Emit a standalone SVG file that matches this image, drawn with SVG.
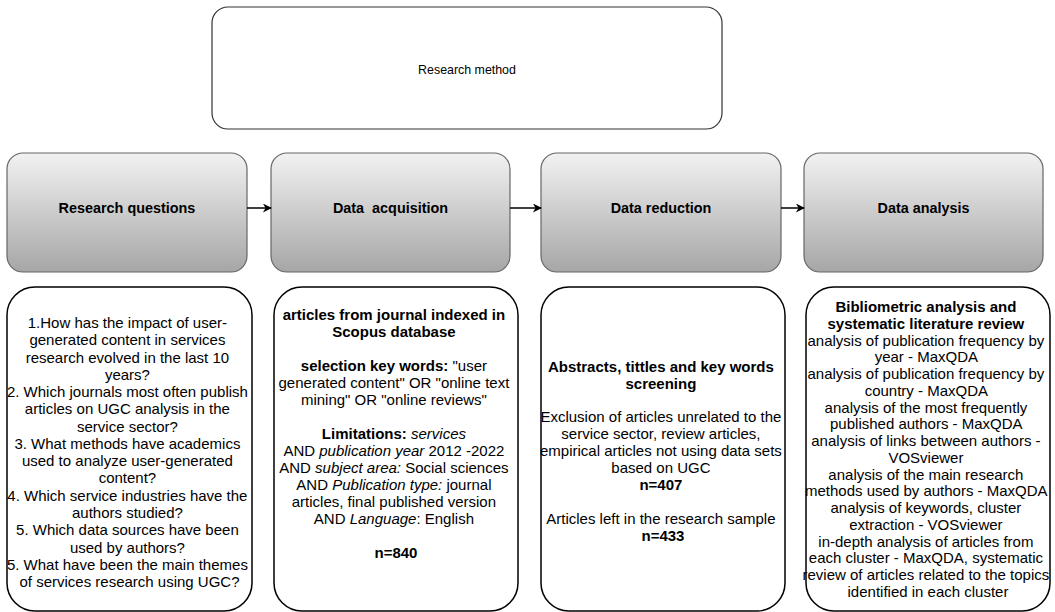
<svg xmlns="http://www.w3.org/2000/svg" width="1055" height="612" viewBox="0 0 1055 612">
<style>
text{font-family:"Liberation Sans",Arial,Helvetica,sans-serif;fill:#000;}
.top{fill:#fff;stroke:#333;stroke-width:1.2;}
.phase{fill:url(#g);stroke:#666;stroke-width:1.2;}
.detail{fill:#fff;stroke:#000;stroke-width:1.5;}
.lbl{font-size:14.4px;font-weight:bold;text-anchor:middle;}
.body{font-size:15px;text-anchor:middle;}
.b{font-weight:bold;}
.i{font-style:italic;}
.conn{stroke:#000;stroke-width:1.5;fill:none;marker-end:url(#arr);}
</style>
<defs>
<linearGradient id="g" x1="0" y1="0" x2="0" y2="1">
<stop offset="0" stop-color="#f2f2f2"/>
<stop offset="1" stop-color="#a6a6a6"/>
</linearGradient>
<marker id="arr" viewBox="0 0 10 10" refX="9" refY="5" markerWidth="10" markerHeight="9" markerUnits="userSpaceOnUse" orient="auto">
<path d="M0,0 L10,5 L0,10 L3,5 Z" fill="#000"/>
</marker>
</defs>

<g id="research-method">
<rect class="top" x="212" y="7" width="510" height="122" rx="16"/>
<text x="467" y="74" style="font-size:12.4px" text-anchor="middle">Research method</text>
</g>

<g id="research-questions">
<rect class="phase" x="7" y="153" width="240" height="119" rx="16"/>
<text class="lbl" x="127" y="213">Research questions</text>
</g>
<g id="data-acquisition">
<rect class="phase" x="271" y="153" width="239" height="119" rx="16"/>
<text class="lbl" x="390.5" y="213" style="white-space:pre">Data  acquisition</text>
</g>
<g id="data-reduction">
<rect class="phase" x="541" y="153" width="240" height="119" rx="16"/>
<text class="lbl" x="661" y="213">Data reduction</text>
</g>
<g id="data-analysis">
<rect class="phase" x="804" y="153" width="239" height="119" rx="16"/>
<text class="lbl" x="923.5" y="213">Data analysis</text>
</g>

<g id="connectors">
<line class="conn" x1="247" y1="208" x2="271" y2="208"/>
<line class="conn" x1="510" y1="208" x2="541" y2="208"/>
<line class="conn" x1="781" y1="208" x2="804" y2="208"/>
</g>

<g id="questions-detail">
<rect class="detail" x="7" y="287" width="245" height="324" rx="28"/>
<text class="body">
<tspan x="129.5" y="328">1.How has the impact of user-</tspan>
<tspan x="129.5" y="345.3">generated content in services</tspan>
<tspan x="129.5" y="362.5">research evolved in the last 10</tspan>
<tspan x="129.5" y="379.8">years?</tspan>
<tspan x="129.5" y="397.1">2. Which journals most often publish</tspan>
<tspan x="129.5" y="414.4">articles on UGC analysis in the</tspan>
<tspan x="129.5" y="431.6">service sector?</tspan>
<tspan x="129.5" y="448.9">3. What methods have academics</tspan>
<tspan x="129.5" y="466.2">used to analyze user-generated</tspan>
<tspan x="129.5" y="483.4">content?</tspan>
<tspan x="129.5" y="500.7">4. Which service industries have the</tspan>
<tspan x="129.5" y="518">authors studied?</tspan>
<tspan x="129.5" y="535.2">5. Which data sources have been</tspan>
<tspan x="129.5" y="552.5">used by authors?</tspan>
<tspan x="129.5" y="569.8">5. What have been the main themes</tspan>
<tspan x="129.5" y="587">of services research using UGC?</tspan>
</text>
</g>

<g id="acquisition-detail">
<rect class="detail" x="274" y="287" width="244" height="324" rx="28"/>
<text class="body">
<tspan x="396" y="320" class="b">articles from journal indexed in</tspan>
<tspan x="396" y="337" class="b">Scopus database</tspan>
<tspan x="396" y="371"><tspan class="b">selection key words:</tspan> "user</tspan>
<tspan x="396" y="388">generated content" OR "online text</tspan>
<tspan x="396" y="405">mining" OR "online reviews"</tspan>
<tspan x="396" y="439"><tspan class="b">Limitations:</tspan> <tspan class="i">services</tspan></tspan>
<tspan x="396" y="456">AND <tspan class="i">publication year</tspan> 2012 -2022</tspan>
<tspan x="396" y="473">AND <tspan class="i">subject area:</tspan> Social sciences</tspan>
<tspan x="396" y="490">AND <tspan class="i">Publication type:</tspan> journal</tspan>
<tspan x="396" y="507">articles, final published version</tspan>
<tspan x="396" y="524">AND <tspan class="i">Language</tspan>: English</tspan>
<tspan x="396" y="558" class="b">n=840</tspan>
</text>
</g>

<g id="reduction-detail">
<rect class="detail" x="541" y="287" width="244" height="324" rx="28"/>
<text class="body">
<tspan x="663" y="372" class="b">Abstracts, tittles and key words</tspan>
<tspan x="663" y="389" class="b">screening</tspan>
<tspan x="663" y="422">Exclusion of articles unrelated to the</tspan>
<tspan x="663" y="439">service sector, review articles,</tspan>
<tspan x="663" y="456">empirical articles not using data sets</tspan>
<tspan x="663" y="473">based on UGC</tspan>
<tspan x="663" y="490" class="b">n=407</tspan>
<tspan x="663" y="524">Articles left in the research sample</tspan>
<tspan x="663" y="541" class="b">n=433</tspan>
</text>
</g>

<g id="analysis-detail">
<rect class="detail" x="806" y="287" width="244" height="324" rx="28"/>
<text class="body">
<tspan x="928" y="312" class="b">Bibliometric analysis and</tspan>
<tspan x="928" y="328.8" class="b">systematic literature review</tspan>
<tspan x="928" y="345.5">analysis of publication frequency by</tspan>
<tspan x="928" y="362.3">year - MaxQDA</tspan>
<tspan x="928" y="379">analysis of publication frequency by</tspan>
<tspan x="928" y="395.8">country - MaxQDA</tspan>
<tspan x="928" y="412.6">analysis of the most frequently</tspan>
<tspan x="928" y="429.3">published authors - MaxQDA</tspan>
<tspan x="928" y="446.1">analysis of links between authors -</tspan>
<tspan x="928" y="462.8">VOSviewer</tspan>
<tspan x="928" y="479.6">analysis of the main research</tspan>
<tspan x="928" y="496.4">methods used by authors - MaxQDA</tspan>
<tspan x="928" y="513.1">analysis of keywords, cluster</tspan>
<tspan x="928" y="529.9">extraction - VOSviewer</tspan>
<tspan x="928" y="546.6">in-depth analysis of articles from</tspan>
<tspan x="928" y="563.4">each cluster - MaxQDA, systematic</tspan>
<tspan x="928" y="580.2">review of articles related to the topics</tspan>
<tspan x="928" y="596.9">identified in each cluster</tspan>
</text>
</g>
</svg>
